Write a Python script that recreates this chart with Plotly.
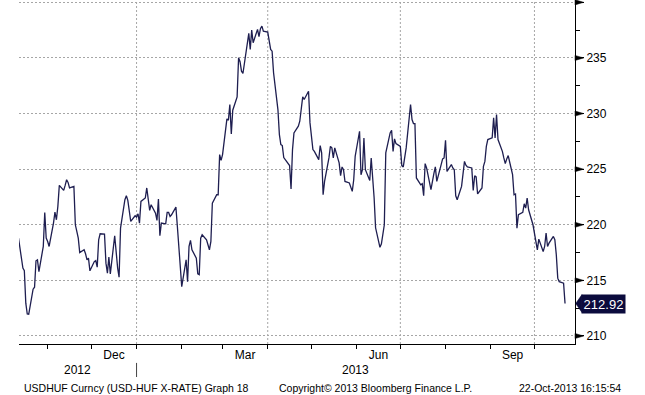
import pandas as pd
import plotly.graph_objects as go

# USD-HUF daily fixings (Oct 2012 - 22 Oct 2013)
usdhuf = [
    # Oct - mid Dec 2012
    218.80, 216.10, 215.88, 212.95, 211.98, 211.95, 214.21, 214.39, 216.76, 216.85,
    215.79, 218.05, 221.11, 218.80, 218.50, 218.05, 220.15, 221.14, 220.45, 221.65,
    223.54, 223.09, 223.54, 224.05, 223.81, 223.31, 223.45, 220.00, 219.40, 218.80,
    217.50, 217.75, 217.39, 216.85, 217.00, 215.86, 216.69, 216.78, 216.19, 218.65,
    219.19, 219.16, 216.55, 215.65,
    # mid Dec 2012 - early Feb 2013
    217.09, 215.59, 219.01, 217.30, 216.13, 215.29, 219.70, 222.25, 222.61, 222.19,
    221.05, 220.30, 220.81, 220.69, 220.99, 220.15, 222.10, 222.41, 223.31, 222.41,
    221.29, 221.80, 221.05, 220.39, 222.32, 219.01, 220.15, 220.09, 221.11, 221.11,
    220.75, 220.90, 221.59, 219.85, 218.00, 216.24, 214.44, 216.85, 214.89, 218.05,
    218.59, 217.75,
    # Feb - Apr 2013
    217.00, 215.59, 215.52, 218.80, 219.10, 218.65, 218.05, 217.75, 218.50, 221.95,
    222.70, 222.70, 226.31, 225.79, 226.31, 229.52, 229.40, 230.81, 228.17, 230.30,
    231.50, 235.02, 234.66, 233.81, 233.60, 236.51, 237.21, 235.77, 237.50, 236.37,
    237.57, 236.91, 237.63, 237.86, 237.41, 237.32, 236.51, 235.77, 235.61, 233.67,
    230.36, 228.11, 227.21, 227.12, 226.04, 225.41, 225.32, 223.22, 226.76, 228.26,
    228.86, 229.31, 230.36, 231.50, 231.26, 232.01, 229.16, 227.66, 226.76, 226.60,
    # May - Jul 2013
    225.86, 227.12, 226.46, 222.70, 223.90, 226.01, 227.05, 226.91, 226.01, 226.91,
    225.56, 224.41, 225.20, 224.95, 223.90, 223.76, 223.45, 223.00, 224.05, 226.15,
    228.41, 224.50, 224.95, 227.81, 224.95, 223.99, 226.01, 224.50, 222.43, 219.73,
    217.97, 218.29, 219.25, 220.00, 226.46, 228.26, 228.50, 226.60, 227.72, 227.30,
    227.05, 225.32, 225.20, 226.15, 226.91, 230.81, 229.46, 229.10, 229.10, 224.21,
    223.60, 223.69, 222.61, 225.50, 225.11, 223.15, 224.05, 224.59, 225.20, 223.90,
    # Aug - Oct 2013
    225.41, 225.92, 226.01, 227.59, 224.80, 225.41, 225.11, 224.95, 222.61, 222.25,
    223.45, 224.95, 225.70, 225.36, 225.20, 225.11, 223.09, 224.41, 224.30, 222.77,
    223.31, 225.25, 225.70, 227.05, 227.66, 227.81, 229.61, 227.81, 229.91, 227.66,
    226.60, 226.01, 225.50, 225.92, 226.22, 224.50, 222.70, 222.77, 219.70, 220.90,
    221.11, 221.89, 221.50, 222.41, 221.35, 220.00, 219.10, 218.50, 217.75, 218.71,
    217.59, 218.05, 219.25, 218.05, 218.35, 218.95, 218.65, 217.30, 215.20, 214.89,
    214.75, 212.92,
]
dates = pd.bdate_range(end="2013-10-22", periods=len(usdhuf))

x_range = ["2012-10-12 08:00", "2013-10-28 20:00"]
month_starts = ["2012-11-01", "2012-12-01", "2013-01-01", "2013-02-01", "2013-03-01",
                "2013-04-01", "2013-05-01", "2013-06-01", "2013-07-01", "2013-08-01",
                "2013-09-01", "2013-10-01"]
month_label_pos = ["2012-12-16 12:00", "2013-03-16 12:00", "2013-06-16", "2013-09-16"]
month_labels = ["Dec", "Mar", "Jun", "Sep"]
quarter_lines = ["2013-01-01", "2013-04-01", "2013-07-01", "2013-10-01"]
year_boundary = "2013-01-01"
year_labels = ["2012", "2013"]
y_ticks = [210, 215, 220, 225, 230, 235, 240]
y_ticktext = ["210", "215", "220", "225", "230", "235", ""]
footer_left = "USDHUF Curncy (USD-HUF X-RATE) Graph 18"
footer_mid = "Copyright\u00a9 2013 Bloomberg Finance L.P."
footer_right = "22-Oct-2013 16:15:54"

FONT = "Liberation Sans, Arial, sans-serif"
LINE = "#1e1e50"
NAVY = "#0b0b3d"
GRID = "#a6a6a6"
last_value = usdhuf[-1]

t0 = pd.Timestamp(x_range[0])
t1 = pd.Timestamp(x_range[1])
tb = pd.Timestamp(year_boundary)
year_pos = [t0 + (tb - t0) / 2, tb + (t1 - tb) / 2]

fig = go.Figure()
fig.add_trace(go.Scatter(x=dates, y=usdhuf, mode="lines",
                         line=dict(color=LINE, width=1.3), hoverinfo="skip"))

shapes = []
for q in quarter_lines:
    shapes.append(dict(type="line", xref="x", yref="paper", x0=q, x1=q, y0=0, y1=1,
                       line=dict(color=GRID, width=1, dash="2px,2px"), layer="below"))
shapes.append(dict(type="line", xref="x", yref="paper", x0=year_boundary, x1=year_boundary,
                   y0=-0.055, y1=-0.096, line=dict(color="#444444", width=1)))
# arrow-style major ticks on the right-hand axis
for v in y_ticks:
    shapes.append(dict(type="path", xref="paper", yref="y",
                       path=f"M 1.0,{v - 0.23} L 1.0,{v + 0.23} L 1.0155,{v} Z",
                       fillcolor="black", line=dict(color="black", width=0.5)))
# pointer of the last-value tag
shapes.append(dict(type="path", xref="paper", yref="y",
                   path=(f"M 1.0125,{last_value + 0.8} L 1.0012,{last_value} "
                         f"L 1.0125,{last_value - 0.8} Z"),
                   fillcolor=NAVY, line=dict(color=NAVY, width=0.5)))

annotations = []
for pos, lab in zip(year_pos, year_labels):
    annotations.append(dict(x=pos, xref="x", y=-0.077, yref="paper", text=lab,
                            showarrow=False, xanchor="center", yanchor="middle",
                            font=dict(family=FONT, size=12, color="black")))
annotations.append(dict(x=0.005, xref="paper", y=-0.128, yref="paper", text=footer_left,
                        showarrow=False, xanchor="left", yanchor="middle",
                        font=dict(family=FONT, size=10.5, color="black")))
annotations.append(dict(x=0.464, xref="paper", y=-0.128, yref="paper", text=footer_mid,
                        showarrow=False, xanchor="left", yanchor="middle",
                        font=dict(family=FONT, size=10.5, color="black")))
annotations.append(dict(x=1.086, xref="paper", y=-0.128, yref="paper", text=footer_right,
                        showarrow=False, xanchor="right", yanchor="middle",
                        font=dict(family=FONT, size=10.5, color="black")))
annotations.append(dict(x=1.0115, xref="paper", y=last_value, yref="y", text=f"{last_value:.2f}",
                        showarrow=False, xanchor="left", yanchor="middle",
                        bgcolor=NAVY, width=41, height=16, borderpad=1,
                        font=dict(family=FONT, size=13, color="white")))

fig.update_layout(
    width=645, height=395,
    margin=dict(l=19, r=70, t=0, b=51, pad=0),
    paper_bgcolor="white", plot_bgcolor="white",
    showlegend=False, hovermode=False,
    font=dict(family=FONT, size=12, color="black"),
    xaxis=dict(type="date", range=x_range, tickmode="array", tickvals=month_label_pos,
               ticktext=month_labels, ticks="", showgrid=False, zeroline=False,
               showline=True, linecolor="black", linewidth=1,
               tickfont=dict(family=FONT, size=12, color="black"),
               minor=dict(tickmode="array", tickvals=month_starts, ticks="outside",
                          ticklen=4, tickcolor="black", tickwidth=1, showgrid=False)),
    yaxis=dict(side="right", range=[209.28, 240.21], tickmode="array", tickvals=y_ticks,
               ticktext=y_ticktext, ticks="outside", ticklen=8, tickcolor="black",
               showline=True, linecolor="black", linewidth=1, zeroline=False,
               showgrid=True, gridcolor=GRID, gridwidth=1, griddash="2px,2px",
               tickfont=dict(family=FONT, size=12, color="black"),
               minor=dict(tickmode="linear", tick0=210, dtick=2.5, ticks="outside",
                          ticklen=4, tickcolor="black", showgrid=False)),
    shapes=shapes, annotations=annotations,
)

fig.write_html("out.html", config={"displayModeBar": False},
               post_script="document.body.style.margin='0';")
